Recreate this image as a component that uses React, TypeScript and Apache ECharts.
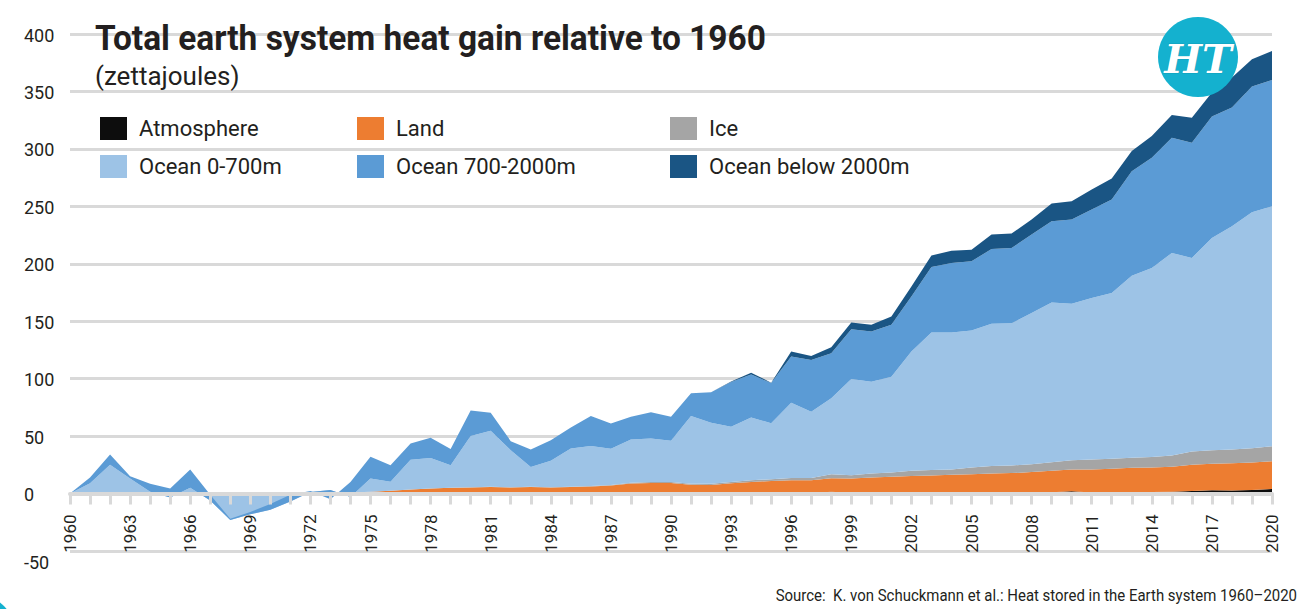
import React, { useEffect, useRef } from "react";
import * as echarts from "echarts";

// Years on the category axis
const years: string[] = [];
for (let y = 1960; y <= 2020; y++) years.push(String(y));

// Heat gain per component, zettajoules relative to 1960 (1960 … 2020)
const atmosphere = [
  0, 0, 0, 0, 0, 0, 0, 0, 0, 0,
  0, 0, 0, 0, 0, 0, 0, 0, 0.1, 0.1,
  0.1, 0.1, 0.1, 0.1, 0.1, 0.1, 0.1, 0.1, 0.2, 0.2,
  0.2, 0.2, 0.2, 0.2, 0.3, 0.3, 0.3, 0.3, 1.5, 0.5,
  0.5, 0.5, 0.5, 0.5, 0.5, 0.6, 0.6, 0.6, 0.7, 1.2,
  2, 1, 1, 1.2, 1.3, 1.5, 2.2, 2.8, 2.6, 3,
  4,
];

const land = [
  0, 0, 0, 0, 0, 0, 0, 0, 0, 0,
  0, 0, 0.3, 0.5, 1, 1.5, 2.5, 3.5, 4.4, 4.9,
  5.2, 5.7, 5.2, 5.6, 5.1, 5.5, 6, 6.9, 8.5, 9,
  9, 7.5, 7.3, 8.8, 9.7, 10.7, 11.2, 11.2, 11.8, 12.6,
  13.5, 14.1, 14.7, 15.3, 15.8, 16.3, 16.9, 17.2, 18, 18.6,
  19, 20, 20.6, 21.2, 21.4, 21.8, 22.8, 23.2, 23.7, 24.1,
  24.2,
];

const ice = [
  0, 0, 0, 0, 0, 0, 0, 0, 0, 0,
  0, 0, 0, 0, 0, 0, 0, 0, 0, 0,
  0.2, 0.2, 0.2, 0.3, 0.3, 0.4, 0.4, 0.5, 0.8, 0.8,
  0.8, 0.8, 1, 1, 1.5, 1.5, 2, 2, 3.5, 2.9,
  3.5, 3.7, 4.6, 4.6, 4.7, 5.8, 6.4, 6.6, 6.9, 7.5,
  8, 8.6, 8.6, 8.7, 9.2, 9.8, 11.6, 11.7, 12, 12.4,
  13,
];

const ocean0to700 = [
  0, 9, 25, 13, 1.5, -3.5, 5, -6, -23, -18,
  -14, -7, 1, 2.5, -4, 11.5, 7.7, 26, 26.5, 19.7,
  44.5, 48.6, 32.3, 17.2, 23, 33.3, 34.8, 31.4, 37.6, 38,
  35.9, 59, 53.1, 48.1, 54.8, 48.6, 65.6, 57.7, 66.1, 83.7,
  79.9, 83.4, 103.8, 119.7, 119.1, 119.2, 123.8, 123.9, 131.5, 139,
  136.2, 140.6, 144.3, 158.5, 164.4, 176.3, 168.5, 184.8, 194.3, 205.4,
  208.9,
];

const ocean700to2000 = [
  0, 5, 9, 2, 7, 8, 16, 5, 1, 2,
  5, 6, 1, -8, 13, 19, 14.5, 14, 17.5, 14,
  22.4, 15.8, 7.8, 15.2, 18, 18.3, 26.2, 22.1, 19.7, 22.7,
  20.9, 19.8, 26.5, 39, 37.3, 35.1, 40.1, 45.1, 39.3, 43.4,
  43.6, 45.2, 48, 57.1, 60.6, 60.2, 65.2, 65.5, 68.3, 70.7,
  73.3, 77, 81.5, 91, 96, 100.4, 100.3, 105.6, 103.4, 109.4,
  109.9,
];

const oceanBelow2000 = [
  0, 0, 0, 0, 0, 0, 0, 0, 0, 0,
  0, 0, 0, 0, 0, 0, 0, 0, 0, 0,
  0, 0, 0, 0, 0, 0, 0, 0, 0, 0,
  0, 0, 0, 0.4, 1.6, 0.3, 4.4, 3.5, 5.2, 5.8,
  5.9, 7.2, 8.7, 9.9, 10.7, 10.2, 12.5, 12.5, 13.1, 15.4,
  16, 17.5, 18.3, 17.5, 18.9, 19.7, 21.8, 20.9, 26.1, 23.8,
  25.3,
];

const seriesDefs = [
  { name: "Atmosphere", data: atmosphere, color: "#0d0d0d" },
  { name: "Land", data: land, color: "#ed7d31" },
  { name: "Ice", data: ice, color: "#a5a5a5" },
  { name: "Ocean 0-700m", data: ocean0to700, color: "#9dc3e6" },
  { name: "Ocean 700-2000m", data: ocean700to2000, color: "#5b9bd5" },
  { name: "Ocean below 2000m", data: oceanBelow2000, color: "#1a5584" },
];

const legendColumns = [
  ["Atmosphere", "Ocean 0-700m"],
  ["Land", "Ocean 700-2000m"],
  ["Ice", "Ocean below 2000m"],
];
const legendLefts = [100, 357, 670];

const FONT = "Roboto, 'Liberation Sans', sans-serif";
const INK = "#231f20";
const GRID_GREY = "#d9d9d9";

export default function App() {
  const ref = useRef<HTMLDivElement>(null);

  useEffect(() => {
    if (!ref.current) return;
    const chart = echarts.init(ref.current, undefined, { renderer: "svg" });

    chart.setOption({
      animation: false,
      backgroundColor: "#ffffff",
      grid: { left: 70, right: 38, top: 34, bottom: 58, containLabel: false },
      legend: legendColumns.map((col, i) => ({
        data: col,
        orient: "vertical",
        left: legendLefts[i],
        top: 117,
        itemWidth: 27,
        itemHeight: 23,
        itemGap: 15,
        icon: "rect",
        selectedMode: false,
        padding: 0,
        textStyle: {
          fontFamily: FONT,
          fontSize: 22,
          color: INK,
          padding: [0, 0, 0, 7],
        },
      })),
      xAxis: {
        type: "category",
        data: years,
        boundaryGap: false,
        position: "bottom",
        offset: -57.5,
        z: 5,
        axisLine: { onZero: false, lineStyle: { color: GRID_GREY, width: 4 } },
        axisTick: {
          show: true,
          interval: 0,
          length: 11,
          lineStyle: { color: GRID_GREY, width: 3 },
        },
        axisLabel: {
          interval: 2,
          rotate: 90,
          margin: 21,
          fontFamily: FONT,
          fontSize: 17,
          color: INK,
        },
        splitLine: { show: false },
      },
      yAxis: {
        type: "value",
        min: -50,
        max: 400,
        interval: 50,
        axisLine: { show: false },
        axisTick: { show: false },
        axisLabel: {
          align: "left",
          margin: 46,
          fontFamily: FONT,
          fontSize: 18,
          color: INK,
          formatter: (v: number) => (v < 0 ? `{neg|${v}}` : `{pos|${v}}`),
          rich: {
            pos: { fontFamily: FONT, fontSize: 18, color: INK, padding: [2, 0, 0, 0] },
            neg: { fontFamily: FONT, fontSize: 18, color: INK, padding: [22, 0, 0, 0] },
          },
        },
        splitLine: { lineStyle: { color: GRID_GREY, width: 3 } },
      },
      series: seriesDefs.map((s) => ({
        name: s.name,
        type: "line",
        stack: "heat",
        stackStrategy: "all",
        data: s.data,
        symbol: "none",
        showSymbol: false,
        lineStyle: { width: 0, color: s.color },
        itemStyle: { color: s.color },
        areaStyle: { color: s.color, opacity: 1 },
        emphasis: { disabled: true },
      })),
      graphic: [
        {
          type: "text",
          x: 95,
          y: 20,
          scaleX: 0.93,
          z: 100,
          style: {
            text: "Total earth system heat gain relative to 1960",
            verticalAlign: "top",
            fontFamily: FONT,
            fontWeight: "bold",
            fontSize: 36,
            fill: INK,
          },
        },
        {
          type: "text",
          x: 95,
          y: 63,
          z: 100,
          style: {
            text: "(zettajoules)",
            verticalAlign: "top",
            fontFamily: FONT,
            fontSize: 26,
            fill: INK,
          },
        },
        {
          type: "circle",
          z: 100,
          shape: { cx: 1198, cy: 57, r: 40 },
          style: { fill: "#14b1cf" },
        },
        {
          type: "text",
          x: 1198,
          y: 58,
          z: 101,
          style: {
            text: "HT",
            align: "center",
            verticalAlign: "middle",
            fontFamily: "'DejaVu Serif', 'Liberation Serif', serif",
            fontWeight: "bold",
            fontStyle: "italic",
            fontSize: 40,
            fill: "#ffffff",
            stroke: "#0e8fa8",
            lineWidth: 0.5,
          },
        },
        {
          type: "circle",
          z: 100,
          shape: { cx: -30, cy: 640, r: 48 },
          style: { fill: "#14b1cf" },
        },
        {
          type: "text",
          x: 1297,
          y: 595,
          scaleX: 0.88,
          z: 100,
          style: {
            text: "Source:  K. von Schuckmann et al.: Heat stored in the Earth system 1960\u20132020",
            align: "right",
            verticalAlign: "middle",
            fontFamily: FONT,
            fontSize: 17,
            fill: INK,
          },
        },
      ],
    });

    return () => chart.dispose();
  }, []);

  return (
    <div
      ref={ref}
      style={{ position: "absolute", left: 0, top: 0, width: 1310, height: 609 }}
    />
  );
}
